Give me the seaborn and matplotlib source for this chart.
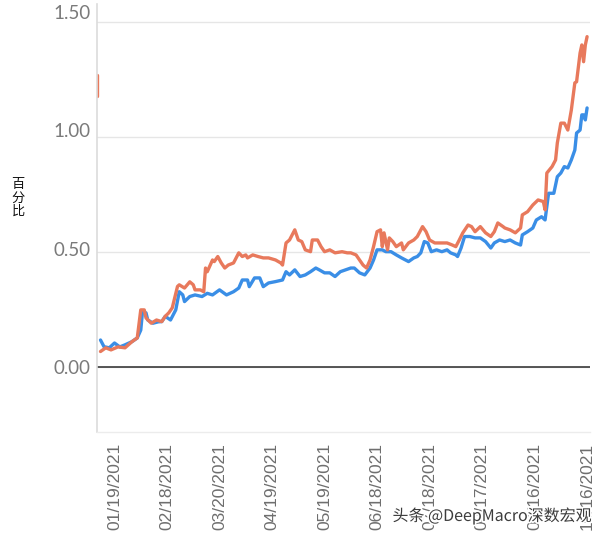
import matplotlib
matplotlib.use("Agg")
import matplotlib.pyplot as plt
import matplotlib.dates as mdates
import matplotlib.patheffects as pe
import matplotlib.ticker as mticker
import matplotlib.transforms as mtransforms
import pandas as pd
import seaborn as sns

# ---------------- data ----------------
blue_dates = [
    "2021-01-11", "2021-01-13", "2021-01-16", "2021-01-19", "2021-01-22", "2021-01-25", "2021-01-29",
    "2021-02-01", "2021-02-03", "2021-02-04", "2021-02-06", "2021-02-07", "2021-02-10", "2021-02-13",
    "2021-02-15", "2021-02-17", "2021-02-20", "2021-02-23", "2021-02-25", "2021-02-27", "2021-02-28",
    "2021-03-03", "2021-03-06", "2021-03-10", "2021-03-13", "2021-03-16", "2021-03-20", "2021-03-24",
    "2021-03-28", "2021-03-31", "2021-04-02", "2021-04-05", "2021-04-06", "2021-04-09", "2021-04-12",
    "2021-04-14", "2021-04-17", "2021-04-21", "2021-04-25", "2021-04-27", "2021-04-29", "2021-05-02",
    "2021-05-05", "2021-05-08", "2021-05-11", "2021-05-14", "2021-05-16", "2021-05-19", "2021-05-22",
    "2021-05-25", "2021-05-28", "2021-05-31", "2021-06-03", "2021-06-05", "2021-06-08", "2021-06-11",
    "2021-06-14", "2021-06-16", "2021-06-18", "2021-06-21", "2021-06-23", "2021-06-26", "2021-06-29",
    "2021-07-02", "2021-07-06", "2021-07-09", "2021-07-11", "2021-07-13", "2021-07-15", "2021-07-17",
    "2021-07-19", "2021-07-22", "2021-07-25", "2021-07-28", "2021-07-30", "2021-08-02", "2021-08-03",
    "2021-08-05", "2021-08-07", "2021-08-10", "2021-08-13", "2021-08-16", "2021-08-19", "2021-08-22",
    "2021-08-24", "2021-08-27", "2021-08-30", "2021-09-02", "2021-09-05", "2021-09-08", "2021-09-09",
    "2021-09-12", "2021-09-15", "2021-09-17", "2021-09-20", "2021-09-22", "2021-09-24", "2021-09-27",
    "2021-09-29", "2021-10-01", "2021-10-03", "2021-10-05", "2021-10-07", "2021-10-09", "2021-10-10",
    "2021-10-12", "2021-10-13", "2021-10-14", "2021-10-15", "2021-10-16",
]
blue_values = [
    0.117, 0.088, 0.083, 0.104, 0.087, 0.096, 0.110,
    0.126, 0.160, 0.240, 0.235, 0.204, 0.190, 0.196,
    0.197, 0.220, 0.204, 0.248, 0.327, 0.313, 0.284,
    0.306, 0.313, 0.306, 0.320, 0.313, 0.335, 0.313,
    0.327, 0.343, 0.378, 0.378, 0.349, 0.387, 0.387,
    0.349, 0.365, 0.371, 0.378, 0.414, 0.400, 0.422,
    0.393, 0.400, 0.414, 0.430, 0.422, 0.409, 0.409,
    0.393, 0.414, 0.422, 0.430, 0.430, 0.409, 0.400,
    0.430, 0.465, 0.509, 0.509, 0.501, 0.501, 0.487,
    0.474, 0.458, 0.474, 0.480, 0.496, 0.545, 0.539,
    0.501, 0.509, 0.501, 0.509, 0.496, 0.487, 0.480,
    0.517, 0.567, 0.567, 0.561, 0.561, 0.545, 0.517,
    0.539, 0.552, 0.545, 0.552, 0.539, 0.530, 0.574,
    0.588, 0.604, 0.639, 0.653, 0.639, 0.755, 0.755,
    0.827, 0.843, 0.871, 0.865, 0.900, 0.943, 1.017,
    1.030, 1.096, 1.096, 1.074, 1.126,
]

red_start_dates = ["2021-01-09", "2021-01-09"]
red_start_values = [1.27, 1.18]

red_dates = [
    "2021-01-11", "2021-01-14", "2021-01-17", "2021-01-21", "2021-01-25", "2021-01-29", "2021-02-01",
    "2021-02-03", "2021-02-05", "2021-02-06", "2021-02-09", "2021-02-12", "2021-02-15", "2021-02-17",
    "2021-02-19", "2021-02-21", "2021-02-24", "2021-02-25", "2021-02-28", "2021-03-03", "2021-03-05",
    "2021-03-06", "2021-03-09", "2021-03-11", "2021-03-12", "2021-03-13", "2021-03-16", "2021-03-17",
    "2021-03-19", "2021-03-21", "2021-03-23", "2021-03-25", "2021-03-28", "2021-03-31", "2021-04-02",
    "2021-04-04", "2021-04-05", "2021-04-08", "2021-04-11", "2021-04-14", "2021-04-17", "2021-04-21",
    "2021-04-24", "2021-04-25", "2021-04-27", "2021-04-29", "2021-05-02", "2021-05-04", "2021-05-06",
    "2021-05-08", "2021-05-11", "2021-05-12", "2021-05-15", "2021-05-17", "2021-05-19", "2021-05-22",
    "2021-05-25", "2021-05-29", "2021-06-01", "2021-06-03", "2021-06-06", "2021-06-08", "2021-06-10",
    "2021-06-12", "2021-06-14", "2021-06-16", "2021-06-18", "2021-06-20", "2021-06-21", "2021-06-22",
    "2021-06-24", "2021-06-25", "2021-06-27", "2021-06-29", "2021-07-02", "2021-07-03", "2021-07-06",
    "2021-07-09", "2021-07-11", "2021-07-14", "2021-07-16", "2021-07-18", "2021-07-21", "2021-07-25",
    "2021-07-28", "2021-07-31", "2021-08-02", "2021-08-04", "2021-08-06", "2021-08-09", "2021-08-11",
    "2021-08-13", "2021-08-16", "2021-08-19", "2021-08-22", "2021-08-24", "2021-08-26", "2021-08-29",
    "2021-08-30", "2021-09-02", "2021-09-05", "2021-09-08", "2021-09-09", "2021-09-12", "2021-09-15",
    "2021-09-18", "2021-09-21", "2021-09-22", "2021-09-23", "2021-09-26", "2021-09-28", "2021-09-29",
    "2021-10-01", "2021-10-03", "2021-10-05", "2021-10-07", "2021-10-09", "2021-10-10", "2021-10-12",
    "2021-10-13", "2021-10-14", "2021-10-15", "2021-10-16",
]
red_values = [
    0.067, 0.083, 0.074, 0.087, 0.083, 0.110, 0.126,
    0.248, 0.248, 0.213, 0.190, 0.204, 0.197, 0.220,
    0.235, 0.257, 0.350, 0.357, 0.343, 0.370, 0.357,
    0.335, 0.335, 0.327, 0.430, 0.414, 0.465, 0.458,
    0.480, 0.452, 0.430, 0.443, 0.452, 0.496, 0.480,
    0.487, 0.474, 0.487, 0.480, 0.474, 0.474, 0.465,
    0.452, 0.443, 0.539, 0.552, 0.596, 0.552, 0.545,
    0.509, 0.501, 0.552, 0.552, 0.523, 0.501, 0.509,
    0.496, 0.501, 0.496, 0.496, 0.487, 0.465, 0.443,
    0.430, 0.465, 0.523, 0.588, 0.596, 0.523, 0.583,
    0.509, 0.561, 0.545, 0.523, 0.539, 0.509, 0.539,
    0.552, 0.567, 0.610, 0.588, 0.552, 0.539, 0.539,
    0.539, 0.530, 0.523, 0.552, 0.583, 0.617, 0.610,
    0.588, 0.610, 0.583, 0.567, 0.588, 0.626, 0.610,
    0.604, 0.596, 0.583, 0.604, 0.661, 0.675, 0.704,
    0.726, 0.719, 0.683, 0.843, 0.871, 0.900, 0.974,
    1.060, 1.060, 1.030, 1.117, 1.235, 1.240, 1.365,
    1.400, 1.327, 1.400, 1.436,
]

series_names = ["series_blue", "series_red"]
tick_dates = ["2021-01-19", "2021-02-18", "2021-03-20", "2021-04-19", "2021-05-19",
              "2021-06-18", "2021-07-18", "2021-08-17", "2021-09-16", "2021-10-16"]
y_ticks = [0.0, 0.5, 1.0, 1.5]
y_label = "百\n分\n比"
watermark = "头条 @DeepMacro深数宏观"

# ---------------- table ----------------
df = pd.concat([
    pd.DataFrame({"date": pd.to_datetime(blue_dates), "value": blue_values,
                  "series": series_names[0], "seg": "b"}),
    pd.DataFrame({"date": pd.to_datetime(red_start_dates), "value": red_start_values,
                  "series": series_names[1], "seg": "r_start"}),
    pd.DataFrame({"date": pd.to_datetime(red_dates), "value": red_values,
                  "series": series_names[1], "seg": "r_main"}),
], ignore_index=True)

# ---------------- plot ----------------
sns.set_theme(style="white")
plt.rcParams["font.family"] = ["Liberation Sans", "DejaVu Sans"]

fig = plt.figure(figsize=(6.05, 5.35), dpi=100)
ax = fig.add_axes([97 / 605, 1 - 432 / 535, (590 - 97) / 605, 428 / 535])

palette = {series_names[0]: "#3a8ee6", series_names[1]: "#e8795c"}
sns.lineplot(data=df, x="date", y="value", hue="series", units="seg",
             estimator=None, sort=False, palette=palette, linewidth=2.4,
             legend=False, ax=ax)

ax.set_ylim(-0.283, 1.578)
ax.set_xlim(pd.Timestamp("2021-01-09"), pd.Timestamp("2021-10-17 16:00"))

ax.axhline(0, color="#3a3a3a", lw=1.2, zorder=1)
ax.set_yticks(y_ticks)
ax.yaxis.set_major_formatter(mticker.FormatStrFormatter("%.2f"))
ax.yaxis.grid(True, color="#e6e6e6", lw=1.0)
ax.xaxis.grid(False)
ax.set_axisbelow(True)

ax.set_xticks(pd.to_datetime(tick_dates))
ax.xaxis.set_major_formatter(mdates.DateFormatter("%m/%d/%Y"))
for lab in ax.get_xticklabels():
    lab.set_rotation(90)
    lab.set_fontsize(12.5)
    lab.set_color("#6e6e6e")
    lab.set_fontfamily(["Liberation Sans", "DejaVu Sans"])
for lab in ax.get_yticklabels():
    lab.set_fontsize(13.5)
    lab.set_color("#7a7a7a")
    lab.set_fontfamily(["Lato", "DejaVu Sans"])
ax.tick_params(axis="x", length=0, pad=8)
ax.tick_params(axis="y", length=0, pad=4.5)

# the original's y labels drift slightly upward from their grid lines
label_shift_px = [0, 3, 7, 10]
for tick, dy in zip(ax.yaxis.get_major_ticks(), label_shift_px):
    tick.label1.set_transform(tick.label1.get_transform() +
                              mtransforms.ScaledTranslation(0, dy / 100, fig.dpi_scale_trans))

ax.set_xlabel("")
ax.set_ylabel("")
for s in ["top", "right"]:
    ax.spines[s].set_visible(False)
ax.spines["left"].set_color("#dcdcdc")
ax.spines["left"].set_linewidth(1.2)
ax.spines["bottom"].set_color("#ececec")
ax.spines["bottom"].set_linewidth(1.0)

fig.text(18 / 605, 1 - 198 / 535, y_label, ha="center", va="center",
         fontsize=9.5, linespacing=1.05, color="#111111",
         family=["Noto Sans CJK SC", "DejaVu Sans"])

fig.text(592 / 605, 1 - 516 / 535, watermark, ha="right", va="center",
         fontsize=11.5, color="#3c3c3c",
         family=["Noto Sans CJK SC", "DejaVu Sans"],
         path_effects=[pe.withStroke(linewidth=2.5, foreground="white")])

fig.savefig("out.png", dpi=100)
